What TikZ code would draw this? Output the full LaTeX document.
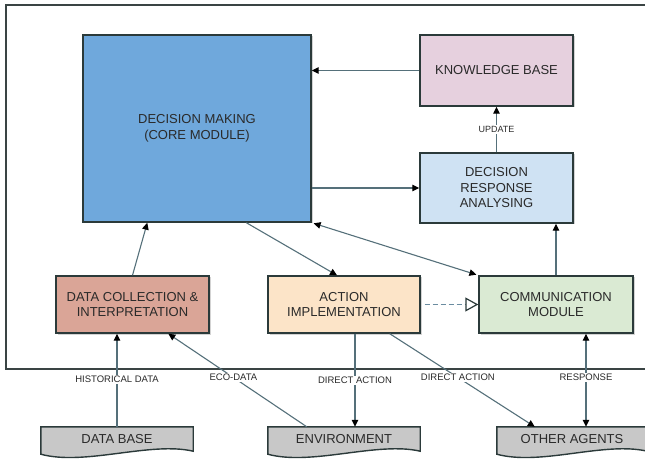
\documentclass[tikz,border=0pt]{standalone}
\usepackage{fontspec}
\setmainfont{Liberation Sans}
\usetikzlibrary{positioning,calc,arrows.meta,shadows,backgrounds}

\definecolor{dmblue}{HTML}{6FA8DC}
\definecolor{kbpink}{HTML}{E6D0DE}
\definecolor{drablue}{HTML}{CFE2F3}
\definecolor{dcred}{HTML}{DAA597}
\definecolor{actpeach}{HTML}{FCE4C8}
\definecolor{cmgreen}{HTML}{DAEAD3}
\definecolor{docgray}{HTML}{C8C8C8}
\definecolor{boxline}{HTML}{2B3A3A}
\definecolor{framec}{HTML}{3A4444}
\definecolor{connc}{HTML}{55707A}
\definecolor{dashc}{HTML}{6A8CA0}
\definecolor{txt}{HTML}{2A2A2A}

\tikzset{
  block/.style={draw=boxline, line width=1.4pt, align=center, text=txt,
    font=\fontsize{13pt}{15.5pt}\selectfont, inner sep=2pt,
    drop shadow={shadow xshift=1.5pt, shadow yshift=-1.5pt, opacity=0.35}},
  docbox/.style={align=center, text=txt, font=\fontsize{13pt}{15.5pt}\selectfont,
    minimum height=24pt, inner sep=0pt},
  docline/.style={draw=boxline, line width=1.4pt, fill=docgray},
  conn/.style={draw=connc, line width=1.1pt,
    >={Triangle[length=7pt,width=6.5pt,color=black]}},
  lbl/.style={fill=white, inner sep=1pt, text=txt, font=\fontsize{9.5pt}{11pt}\selectfont}
}

\begin{document}
\begin{tikzpicture}[x=1pt,y=-1pt]
    \useasboundingbox (0,0) rectangle (645,462);
    \clip (0,0) rectangle (645,462);

    % Agent frame
    \draw[draw=framec, line width=1.5pt] (6,5) rectangle (660,369);

    % Modules
    \node[block, fill=dmblue, minimum width=228pt, minimum height=187pt] (dm) at (197,128.5) {DECISION MAKING\\(CORE MODULE)};
    \node[block, fill=kbpink, minimum width=153pt, minimum height=71pt] (kb) at (496.5,70.5) {KNOWLEDGE BASE};
    \node[block, fill=drablue, minimum width=153pt, minimum height=70pt] (dra) at (496.5,188) {DECISION\\RESPONSE\\ANALYSING};
    \node[block, fill=dcred, minimum width=153pt, minimum height=57pt] (dc) at (132.5,304.5) {DATA COLLECTION \&\\INTERPRETATION};
    \node[block, fill=actpeach, minimum width=152pt, minimum height=57pt] (act) at (344,304.5) {ACTION\\IMPLEMENTATION};
    \node[block, fill=cmgreen, minimum width=154pt, minimum height=57pt] (cm) at (556,304.5) {COMMUNICATION\\MODULE};

    % Outside sources
    \node[docbox, minimum width=152pt] (db) at (117,439) {DATA BASE};
    \node[docbox, minimum width=152pt] (env) at (344,439) {ENVIRONMENT};
    \node[docbox, minimum width=150pt] (oa) at (572,439) {OTHER AGENTS};
    \begin{scope}[on background layer]
    \foreach \d in {db,env,oa}
        \draw[docline] (\d.north west) -- (\d.north east) -- (\d.south east)
            .. controls ($(\d.south east)+(-43,-10)$) and ($(\d.south west)+(44,15)$) .. ($(\d.south west)+(0,3)$) -- cycle;
    \end{scope}

    % Inside links
    \draw[conn,->] (kb.west) -- (kb.west -| dm.east);
    \draw[conn,->] (dra.west -| dm.east) -- (dra.west);
    \draw[conn,->] (dra.north) -- node[lbl, font=\fontsize{9pt}{10pt}\selectfont] (upd) {UPDATE} (kb.south);
    \draw[conn,->] (dc.north) -- ($(dm.south west)+(65,0)$);
    \draw[conn,->] ($(dm.south west)+(164,0)$) -- ($(act.north)+(-7,0)$);
    \draw[conn,<->,shorten <=2pt,shorten >=2pt] (dm.south east) -- (cm.north west);
    \draw[conn,->] (cm.north) -- (cm.north |- dra.south);
    \draw[draw=dashc, line width=1.2pt, dash pattern=on 5pt off 3pt, shorten <=4pt,
        -{Triangle[open,length=13pt,width=14pt,fill=white,color=boxline]}] (act.east) -- (cm.west);

    % Links to the outside
    \draw[conn,->] (db.north) -- node[lbl, pos=0.51] (hist) {HISTORICAL DATA} (db.north |- dc.south);
    \draw[conn,->] ($(env.north west)+(39,0)$) -- node[lbl, pos=0.53] (eco) {ECO-DATA} ($(dc.south west)+(113,0)$);
    \draw[conn,->] ($(act.south)+(11,0)$) -- node[lbl, pos=0.5] (da1) {DIRECT ACTION} ($(env.north)+(11,0)$);
    \draw[conn,->] ($(act.south east)+(-31,0)$) -- node[lbl, pos=0.47] (da2) {DIRECT ACTION} ($(oa.north west)+(38,0)$);
    \coordinate (rsp) at ($(cm.south)+(30,0)$);
    \draw[conn,<->] (rsp) -- node[lbl, pos=0.47] (resp) {RESPONSE} (rsp |- oa.north);
\end{tikzpicture}
\end{document}
